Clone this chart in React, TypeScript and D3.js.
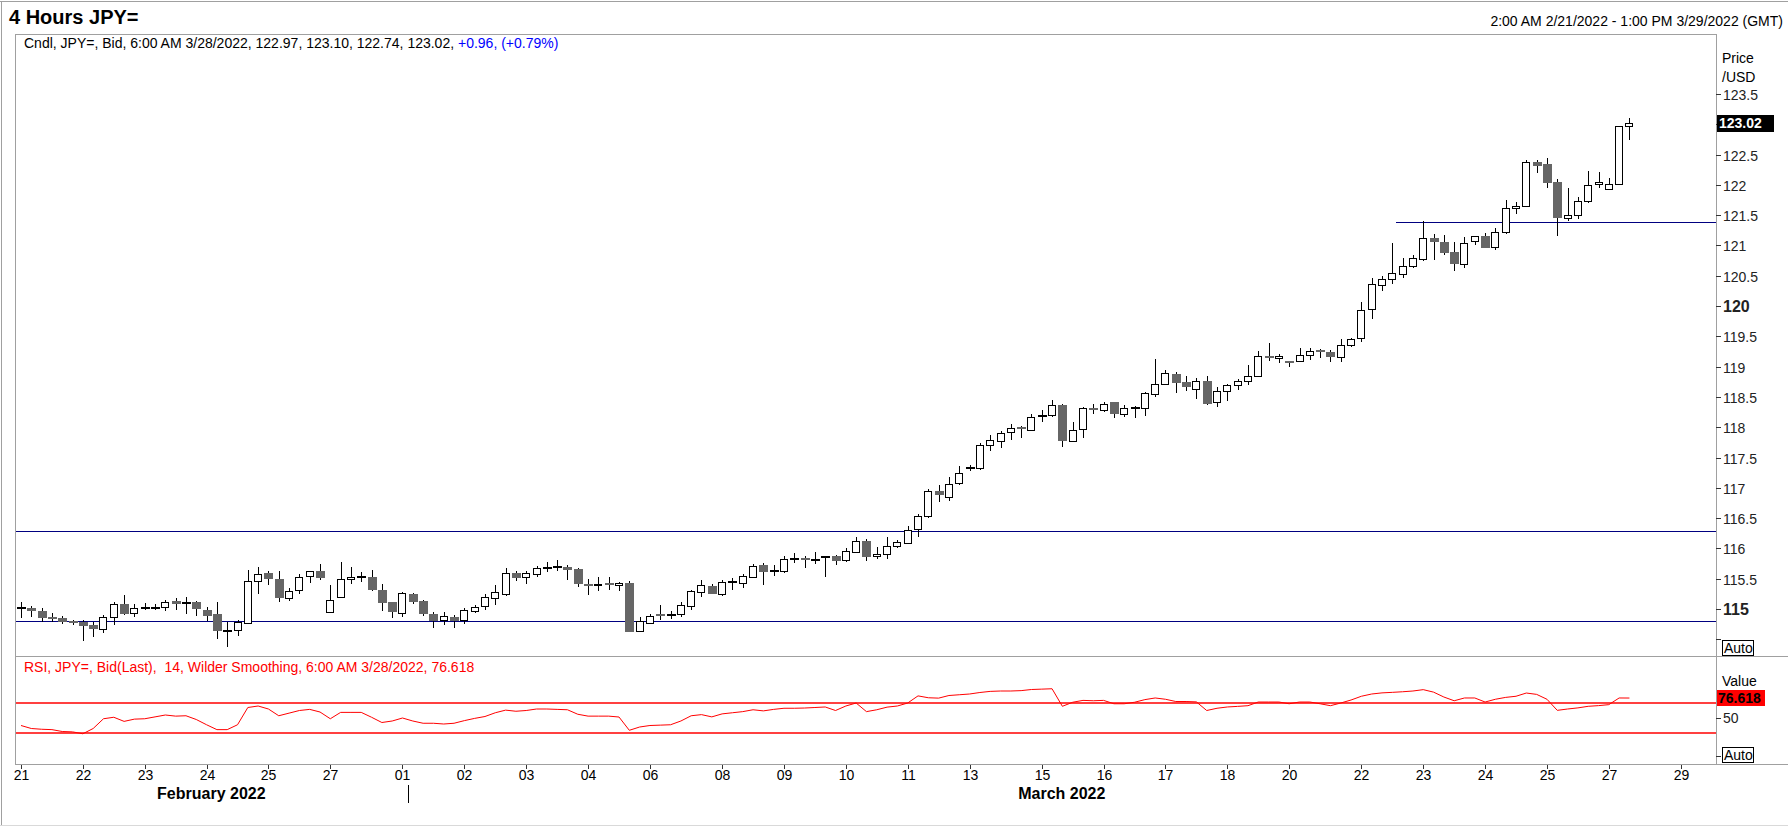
import React from 'react';
import * as d3 from 'd3';

// 4-hour bars, 2:00 AM 2/21/2022 .. 6:00 AM 3/28/2022 (157 bars)
const opens = [
  115.02, 115.02, 114.97, 114.87, 114.85, 114.80, 114.78, 114.74, 114.68, 114.87,
  115.08, 114.93, 115.02, 115.02, 115.03, 115.14, 115.10, 115.11, 114.99, 114.92,
  114.64, 114.64, 114.77, 115.46, 115.59, 115.50, 115.19, 115.31, 115.54, 115.63,
  114.96, 115.20, 115.49, 115.53, 115.52, 115.31, 115.11, 114.93, 115.25, 115.13,
  114.91, 114.81, 114.87, 114.81, 114.98, 115.04, 115.18, 115.25, 115.59, 115.52,
  115.57, 115.68, 115.69, 115.70, 115.66, 115.42, 115.40, 115.43, 115.40, 115.43,
  114.64, 114.76, 114.91, 114.90, 114.91, 115.06, 115.28, 115.38, 115.24, 115.45,
  115.42, 115.53, 115.73, 115.63, 115.63, 115.82, 115.82, 115.81, 115.85, 115.87,
  115.80, 115.95, 116.13, 115.87, 115.90, 116.03, 116.09, 116.31, 116.53, 116.94,
  116.85, 117.07, 117.33, 117.32, 117.70, 117.78, 117.92, 117.98, 117.96, 118.19,
  118.20, 118.37, 117.78, 117.96, 118.31, 118.29, 118.41, 118.21, 118.31, 118.31,
  118.56, 118.72, 118.88, 118.75, 118.64, 118.77, 118.41, 118.59, 118.69, 118.75,
  118.84, 119.17, 119.14, 119.10, 119.09, 119.19, 119.27, 119.24, 119.15, 119.35,
  119.47, 119.94, 120.34, 120.44, 120.52, 120.65, 120.77, 121.12, 121.06, 120.89,
  120.70, 121.06, 121.15, 120.98, 121.21, 121.61, 121.64, 122.38, 122.34, 122.05,
  121.45, 121.51, 121.74, 122.00, 121.94, 122.02, 122.97,
];
const highs = [
  115.12, 115.05, 115.01, 114.93, 114.88, 114.82, 114.82, 114.78, 114.90, 115.12,
  115.23, 115.08, 115.10, 115.08, 115.15, 115.18, 115.19, 115.13, 115.03, 115.11,
  114.78, 114.82, 115.64, 115.69, 115.63, 115.63, 115.34, 115.57, 115.63, 115.75,
  115.40, 115.77, 115.69, 115.61, 115.64, 115.42, 115.11, 115.28, 115.26, 115.15,
  114.95, 114.95, 114.90, 115.02, 115.07, 115.25, 115.40, 115.68, 115.63, 115.62,
  115.71, 115.77, 115.81, 115.72, 115.67, 115.50, 115.53, 115.52, 115.45, 115.46,
  114.87, 114.92, 115.07, 114.97, 115.12, 115.32, 115.48, 115.41, 115.48, 115.51,
  115.58, 115.74, 115.76, 115.73, 115.87, 115.92, 115.87, 115.94, 115.86, 115.89,
  116.00, 116.19, 116.15, 116.03, 116.19, 116.14, 116.37, 116.57, 116.98, 117.05,
  117.17, 117.36, 117.38, 117.74, 117.87, 117.93, 118.06, 118.02, 118.22, 118.29,
  118.45, 118.39, 118.09, 118.33, 118.39, 118.42, 118.42, 118.37, 118.35, 118.58,
  119.13, 118.95, 118.91, 118.84, 118.81, 118.84, 118.66, 118.72, 118.79, 119.02,
  119.26, 119.39, 119.21, 119.10, 119.31, 119.30, 119.29, 119.27, 119.45, 119.48,
  120.07, 120.46, 120.49, 121.04, 120.80, 120.84, 121.40, 121.19, 121.17, 121.06,
  121.14, 121.15, 121.20, 121.29, 121.75, 121.72, 122.41, 122.41, 122.44, 122.09,
  121.95, 121.80, 122.23, 122.21, 122.11, 122.97, 123.10,
];
const lows = [
  114.85, 114.87, 114.78, 114.78, 114.76, 114.74, 114.48, 114.54, 114.60, 114.73,
  114.90, 114.86, 114.98, 114.98, 114.96, 114.98, 114.92, 114.89, 114.80, 114.50,
  114.38, 114.55, 114.76, 115.24, 115.40, 115.12, 115.14, 115.24, 115.43, 115.48,
  114.94, 115.20, 115.42, 115.44, 115.29, 114.96, 114.85, 114.87, 115.09, 114.89,
  114.69, 114.73, 114.68, 114.76, 114.94, 114.99, 115.06, 115.22, 115.47, 115.42,
  115.52, 115.61, 115.62, 115.48, 115.37, 115.23, 115.29, 115.32, 115.30, 114.62,
  114.63, 114.76, 114.82, 114.84, 114.87, 114.99, 115.19, 115.24, 115.22, 115.32,
  115.34, 115.52, 115.39, 115.55, 115.60, 115.76, 115.67, 115.75, 115.53, 115.73,
  115.78, 115.92, 115.80, 115.82, 115.82, 116.00, 116.08, 116.19, 116.50, 116.77,
  116.79, 117.04, 117.28, 117.30, 117.60, 117.66, 117.79, 117.83, 117.93, 118.08,
  118.17, 117.68, 117.77, 117.83, 118.21, 118.25, 118.16, 118.17, 118.16, 118.18,
  118.50, 118.69, 118.57, 118.60, 118.47, 118.37, 118.34, 118.44, 118.62, 118.69,
  118.83, 119.10, 119.06, 119.00, 119.09, 119.11, 119.15, 119.08, 119.08, 119.33,
  119.41, 119.79, 120.25, 120.37, 120.47, 120.63, 120.75, 120.76, 120.84, 120.57,
  120.62, 121.00, 120.95, 120.93, 121.18, 121.51, 121.64, 122.20, 121.94, 121.16,
  121.40, 121.43, 121.70, 121.94, 121.94, 122.02, 122.74,
];
const closes = [
  115.02, 114.97, 114.85, 114.85, 114.78, 114.78, 114.71, 114.68, 114.87, 115.08,
  114.92, 115.01, 115.02, 115.02, 115.12, 115.09, 115.10, 114.99, 114.89, 114.64,
  114.64, 114.78, 115.46, 115.57, 115.49, 115.18, 115.30, 115.53, 115.62, 115.52,
  115.15, 115.49, 115.52, 115.53, 115.30, 115.10, 114.94, 115.26, 115.11, 114.91,
  114.80, 114.88, 114.80, 114.98, 115.04, 115.19, 115.28, 115.59, 115.51, 115.59,
  115.67, 115.68, 115.69, 115.65, 115.42, 115.40, 115.42, 115.39, 115.43, 114.62,
  114.80, 114.88, 114.87, 114.90, 115.06, 115.30, 115.39, 115.25, 115.44, 115.45,
  115.54, 115.71, 115.62, 115.63, 115.82, 115.82, 115.81, 115.81, 115.85, 115.78,
  115.95, 116.13, 115.86, 115.91, 116.04, 116.10, 116.31, 116.53, 116.94, 116.87,
  117.07, 117.24, 117.33, 117.70, 117.79, 117.91, 117.98, 117.97, 118.17, 118.19,
  118.36, 117.78, 117.96, 118.31, 118.28, 118.39, 118.21, 118.31, 118.31, 118.56,
  118.72, 118.90, 118.73, 118.67, 118.77, 118.39, 118.59, 118.69, 118.76, 118.84,
  119.17, 119.13, 119.17, 119.08, 119.19, 119.26, 119.23, 119.15, 119.35, 119.45,
  119.94, 120.36, 120.44, 120.54, 120.66, 120.79, 121.12, 121.06, 120.88, 120.70,
  121.04, 121.15, 120.95, 121.22, 121.61, 121.65, 122.37, 122.32, 122.03, 121.46,
  121.50, 121.74, 122.00, 122.04, 122.02, 122.97, 123.02,
];
// RSI(14), Wilder smoothing, one value per bar
const rsi = [
  40, 36, 35, 34.5, 32, 31.5, 29, 36, 49, 51,
  45.5, 48.5, 49, 51.5, 54, 52.5, 53, 48, 41, 34.5,
  34.5, 41, 64, 66, 62, 53, 56.5, 60, 61.5, 58,
  49, 57.5, 57.5, 57.5, 51, 44, 46, 50, 46, 43,
  43, 42, 43, 46.5, 49.5, 52, 57, 60.5, 59, 60,
  62, 62, 61.5, 61, 55, 52.5, 52.5, 52.5, 51.3, 33.6,
  38, 40, 40.5, 41, 46, 53, 54.5, 51.5, 55.5, 57,
  58.5, 61, 59.5, 61.5, 63, 63, 63.3, 64, 64.7, 60,
  66, 70, 58.5, 61, 64.5, 66, 70, 79.5, 77, 76.5,
  80, 81, 82, 84, 85.5, 86, 86, 86.5, 88, 88.5,
  89, 65.6, 71, 73.5, 73, 73.5, 69, 69, 71, 74.5,
  76.7, 75, 72, 72, 71.5, 60, 63, 64.7, 65.5, 66.4,
  71.3, 71.3, 71.3, 69, 71.3, 71.3, 69, 66.4, 70, 74,
  79, 82, 83.5, 84.2, 85, 86, 87.8, 84.5, 78, 73,
  76.7, 76.7, 71.3, 75, 77.5, 79, 83.3, 81.5, 75, 60.2,
  62, 63.5, 65.6, 66.5, 67.8, 76.7, 76.618,
];

const tickLabels = ['21', '22', '23', '24', '25', '27', '01', '02', '03', '04', '06', '08', '09', '10', '11', '13', '15', '16', '17', '18', '20', '22', '23', '24', '25', '27', '29'];
const tickBars = [0, 6, 12, 18, 24, 30, 37, 43, 49, 55, 61, 68, 74, 80, 86, 92, 99, 105, 111, 117, 123, 130, 136, 142, 148, 154, 161];
const monthLabels = ['February 2022', 'March 2022'];
const monthStartBars = [0, 37];

const priceTicks = [114.5, 115, 115.5, 116, 116.5, 117, 117.5, 118, 118.5, 119, 119.5, 120, 120.5, 121, 121.5, 122, 122.5, 123, 123.5];
const hiddenPriceTicks = [114.5, 123];
// horizontal drawn lines
const supportLevels = [114.80, 116.28];
const resistanceLevel = 121.39;
const resistanceFromBar = 133.4;
const rsiBands = [70, 30];

const W = 1788;
const H = 827;
const FONT = '"Liberation Sans", Arial, sans-serif';

const App: React.FC = () => {
  const left = 15;
  const axisX = 1716;
  const top = 34;
  const sep = 656;
  const bottom = 764;

  const x = d3.scaleLinear().domain([0, 161]).range([21, 1681]);
  const y = d3.scaleLinear().domain([115, 120]).range([609, 306]);
  const yR = d3.scaleLinear().domain([30, 70]).range([733, 703]);

  const n = closes.length;
  const last = closes[n - 1];
  const lastRsi = rsi[n - 1];

  const rsiLine = d3.line<number>()
    .x((_, i) => x(i))
    .y(d => yR(d))(rsi) || '';

  const candles = closes.map((c, i) => {
    const o = opens[i];
    const cx = Math.round(x(i));
    const yTop = y(Math.max(o, c));
    const yBot = y(Math.min(o, c));
    const hBody = yBot - yTop;
    let body: React.ReactNode;
    if (hBody < 1.2) {
      // doji / tiny body
      const col = c < o ? '#666666' : '#000';
      body = <rect x={cx - 4} y={Math.round(yTop) - 1} width={9} height={2} fill={col} />;
    } else if (c > o) {
      body = <rect x={cx - 3.5} y={Math.round(yTop) + 0.5} width={7} height={Math.max(1, Math.round(hBody))}
        fill="#fff" stroke="#000" strokeWidth={1} />;
    } else {
      body = <rect x={cx - 4} y={Math.round(yTop)} width={9} height={Math.max(2, Math.round(hBody))} fill="#666666" />;
    }
    return (
      <g key={i}>
        <line x1={cx + 0.5} x2={cx + 0.5} y1={y(highs[i])} y2={y(lows[i])} stroke="#000" strokeWidth={1} />
        {body}
      </g>
    );
  });

  const monthEdges = monthStartBars.map((b, i) => (i === 0 ? left : x(b + 0.5)));
  const monthCenters = monthEdges.map((e, i) => (e + (i + 1 < monthEdges.length ? monthEdges[i + 1] : axisX)) / 2);

  return (
    <div>
      <style>{'body{margin:0;background:#fff}'}</style>
      <svg width={W} height={H} style={{ display: 'block', fontFamily: FONT }}>
        <rect x={0} y={0} width={W} height={H} fill="#fff" />
        {/* outer frame */}
        <line x1={0} x2={W} y1={1.5} y2={1.5} stroke="#a0a0a0" />
        <line x1={1.5} x2={1.5} y1={1} y2={825} stroke="#a0a0a0" />
        <line x1={0} x2={W} y1={825.5} y2={825.5} stroke="#d9d9d9" />

        {/* header */}
        <text x={9} y={23.5} fontSize={20} fontWeight="bold" fill="#000">4 Hours JPY=</text>
        <text x={1783} y={26} fontSize={14} textAnchor="end" fill="#000">
          2:00 AM 2/21/2022 - 1:00 PM 3/29/2022 (GMT)
        </text>

        {/* panel frames */}
        <line x1={left} x2={axisX} y1={top + 0.5} y2={top + 0.5} stroke="#a0a0a0" />
        <line x1={left + 0.5} x2={left + 0.5} y1={top} y2={bottom} stroke="#a0a0a0" />
        <line x1={left} x2={W} y1={sep + 0.5} y2={sep + 0.5} stroke="#a0a0a0" />
        <line x1={left} x2={W} y1={bottom + 0.5} y2={bottom + 0.5} stroke="#a0a0a0" />
        <line x1={axisX + 0.5} x2={axisX + 0.5} y1={top} y2={bottom} stroke="#a0a0a0" />

        {/* price panel */}
        <defs>
          <clipPath id="pclip"><rect x={left + 1} y={top + 1} width={axisX - left - 1} height={sep - top - 1} /></clipPath>
          <clipPath id="rclip"><rect x={left + 1} y={sep + 1} width={axisX - left - 1} height={bottom - sep - 1} /></clipPath>
        </defs>
        <g clipPath="url(#pclip)" shapeRendering="crispEdges">
          {supportLevels.map((p, i) => (
            <line key={i} x1={left} x2={axisX} y1={Math.round(y(p)) + 0.5} y2={Math.round(y(p)) + 0.5} stroke="#000080" />
          ))}
          <line x1={x(resistanceFromBar)} x2={axisX} y1={Math.round(y(resistanceLevel)) + 0.5} y2={Math.round(y(resistanceLevel)) + 0.5} stroke="#000080" />
          {candles}
        </g>

        <text x={24} y={47.5} fontSize={14} fill="#000">
          Cndl, JPY=, Bid, 6:00 AM 3/28/2022, {opens[n - 1].toFixed(2)}, {highs[n - 1].toFixed(2)}, {lows[n - 1].toFixed(2)}, {last.toFixed(2)},{' '}
          <tspan fill="#0000ff">+0.96, (+0.79%)</tspan>
        </text>

        {/* price axis */}
        <text x={1722} y={63} fontSize={14} fill="#000">Price</text>
        <text x={1722} y={81.5} fontSize={14} fill="#000">/USD</text>
        {priceTicks.map(v => {
          const yy = Math.round(y(v)) + 0.5;
          const major = v % 5 === 0;
          return (
            <g key={v}>
              <line x1={axisX} x2={axisX + 5} y1={yy} y2={yy} stroke="#333" />
              {hiddenPriceTicks.indexOf(v) < 0 && (
                <text x={1723} y={yy + (major ? 5.5 : 5)} fontSize={major ? 16 : 14}
                  fontWeight={major ? 'bold' : 'normal'} fill="#222">{String(v)}</text>
              )}
            </g>
          );
        })}
        <rect x={axisX + 1} y={Math.round(y(last)) - 8} width={57} height={17} fill="#000" />
        <text x={axisX + 3} y={Math.round(y(last)) + 5} fontSize={14} fontWeight="bold" fill="#fff">{last.toFixed(2)}</text>
        <rect x={1722.5} y={640.5} width={31} height={15} fill="#fff" stroke="#000" />
        <text x={1724} y={653} fontSize={14} fill="#000">Auto</text>

        {/* RSI panel */}
        <g clipPath="url(#rclip)">
          {rsiBands.map(b => (
            <line key={b} x1={left} x2={axisX} y1={yR(b)} y2={yR(b)} stroke="#ff0000" strokeWidth={1.3} />
          ))}
          <path d={rsiLine} fill="none" stroke="#ff0000" strokeWidth={1} />
        </g>
        <text x={24} y={672} fontSize={14} fill="#ff0000">
          RSI, JPY=, Bid(Last),{'\u00a0\u00a0'}14, Wilder Smoothing, 6:00 AM 3/28/2022, {lastRsi.toFixed(3)}
        </text>
        <text x={1722} y={686} fontSize={14} fill="#000">Value</text>
        <rect x={axisX + 1} y={Math.round(yR(lastRsi)) - 8} width={48} height={16} fill="#ff0000" />
        <text x={axisX + 2} y={Math.round(yR(lastRsi)) + 5} fontSize={14} fontWeight="bold" fill="#000">{lastRsi.toFixed(3)}</text>
        <line x1={axisX} x2={axisX + 5} y1={Math.round(yR(50)) + 0.5} y2={Math.round(yR(50)) + 0.5} stroke="#333" />
        <text x={1723} y={Math.round(yR(50)) + 5} fontSize={14} fill="#222">50</text>
        <line x1={axisX} x2={axisX + 5} y1={Math.round(yR(0)) + 0.5} y2={Math.round(yR(0)) + 0.5} stroke="#333" />
        <rect x={1722.5} y={747.5} width={31} height={15} fill="#fff" stroke="#000" />
        <text x={1724} y={760} fontSize={14} fill="#000">Auto</text>

        {/* time axis */}
        {tickBars.map((b, i) => {
          const xx = Math.round(x(b)) + 0.5;
          return (
            <g key={i}>
              <line x1={xx} x2={xx} y1={bottom + 1} y2={bottom + 5} stroke="#333" />
              <text x={xx} y={780} fontSize={14} textAnchor="middle" fill="#000">{tickLabels[i]}</text>
            </g>
          );
        })}
        {monthStartBars.slice(1).map(b => {
          const xx = Math.round(x(b + 0.5)) + 0.5;
          return <line key={b} x1={xx} x2={xx} y1={785} y2={803} stroke="#000" />;
        })}
        {monthLabels.map((m, i) => (
          <text key={m} x={monthCenters[i]} y={799} fontSize={16} fontWeight="bold" textAnchor="middle" fill="#000">{m}</text>
        ))}
      </svg>
    </div>
  );
};

export default App;
